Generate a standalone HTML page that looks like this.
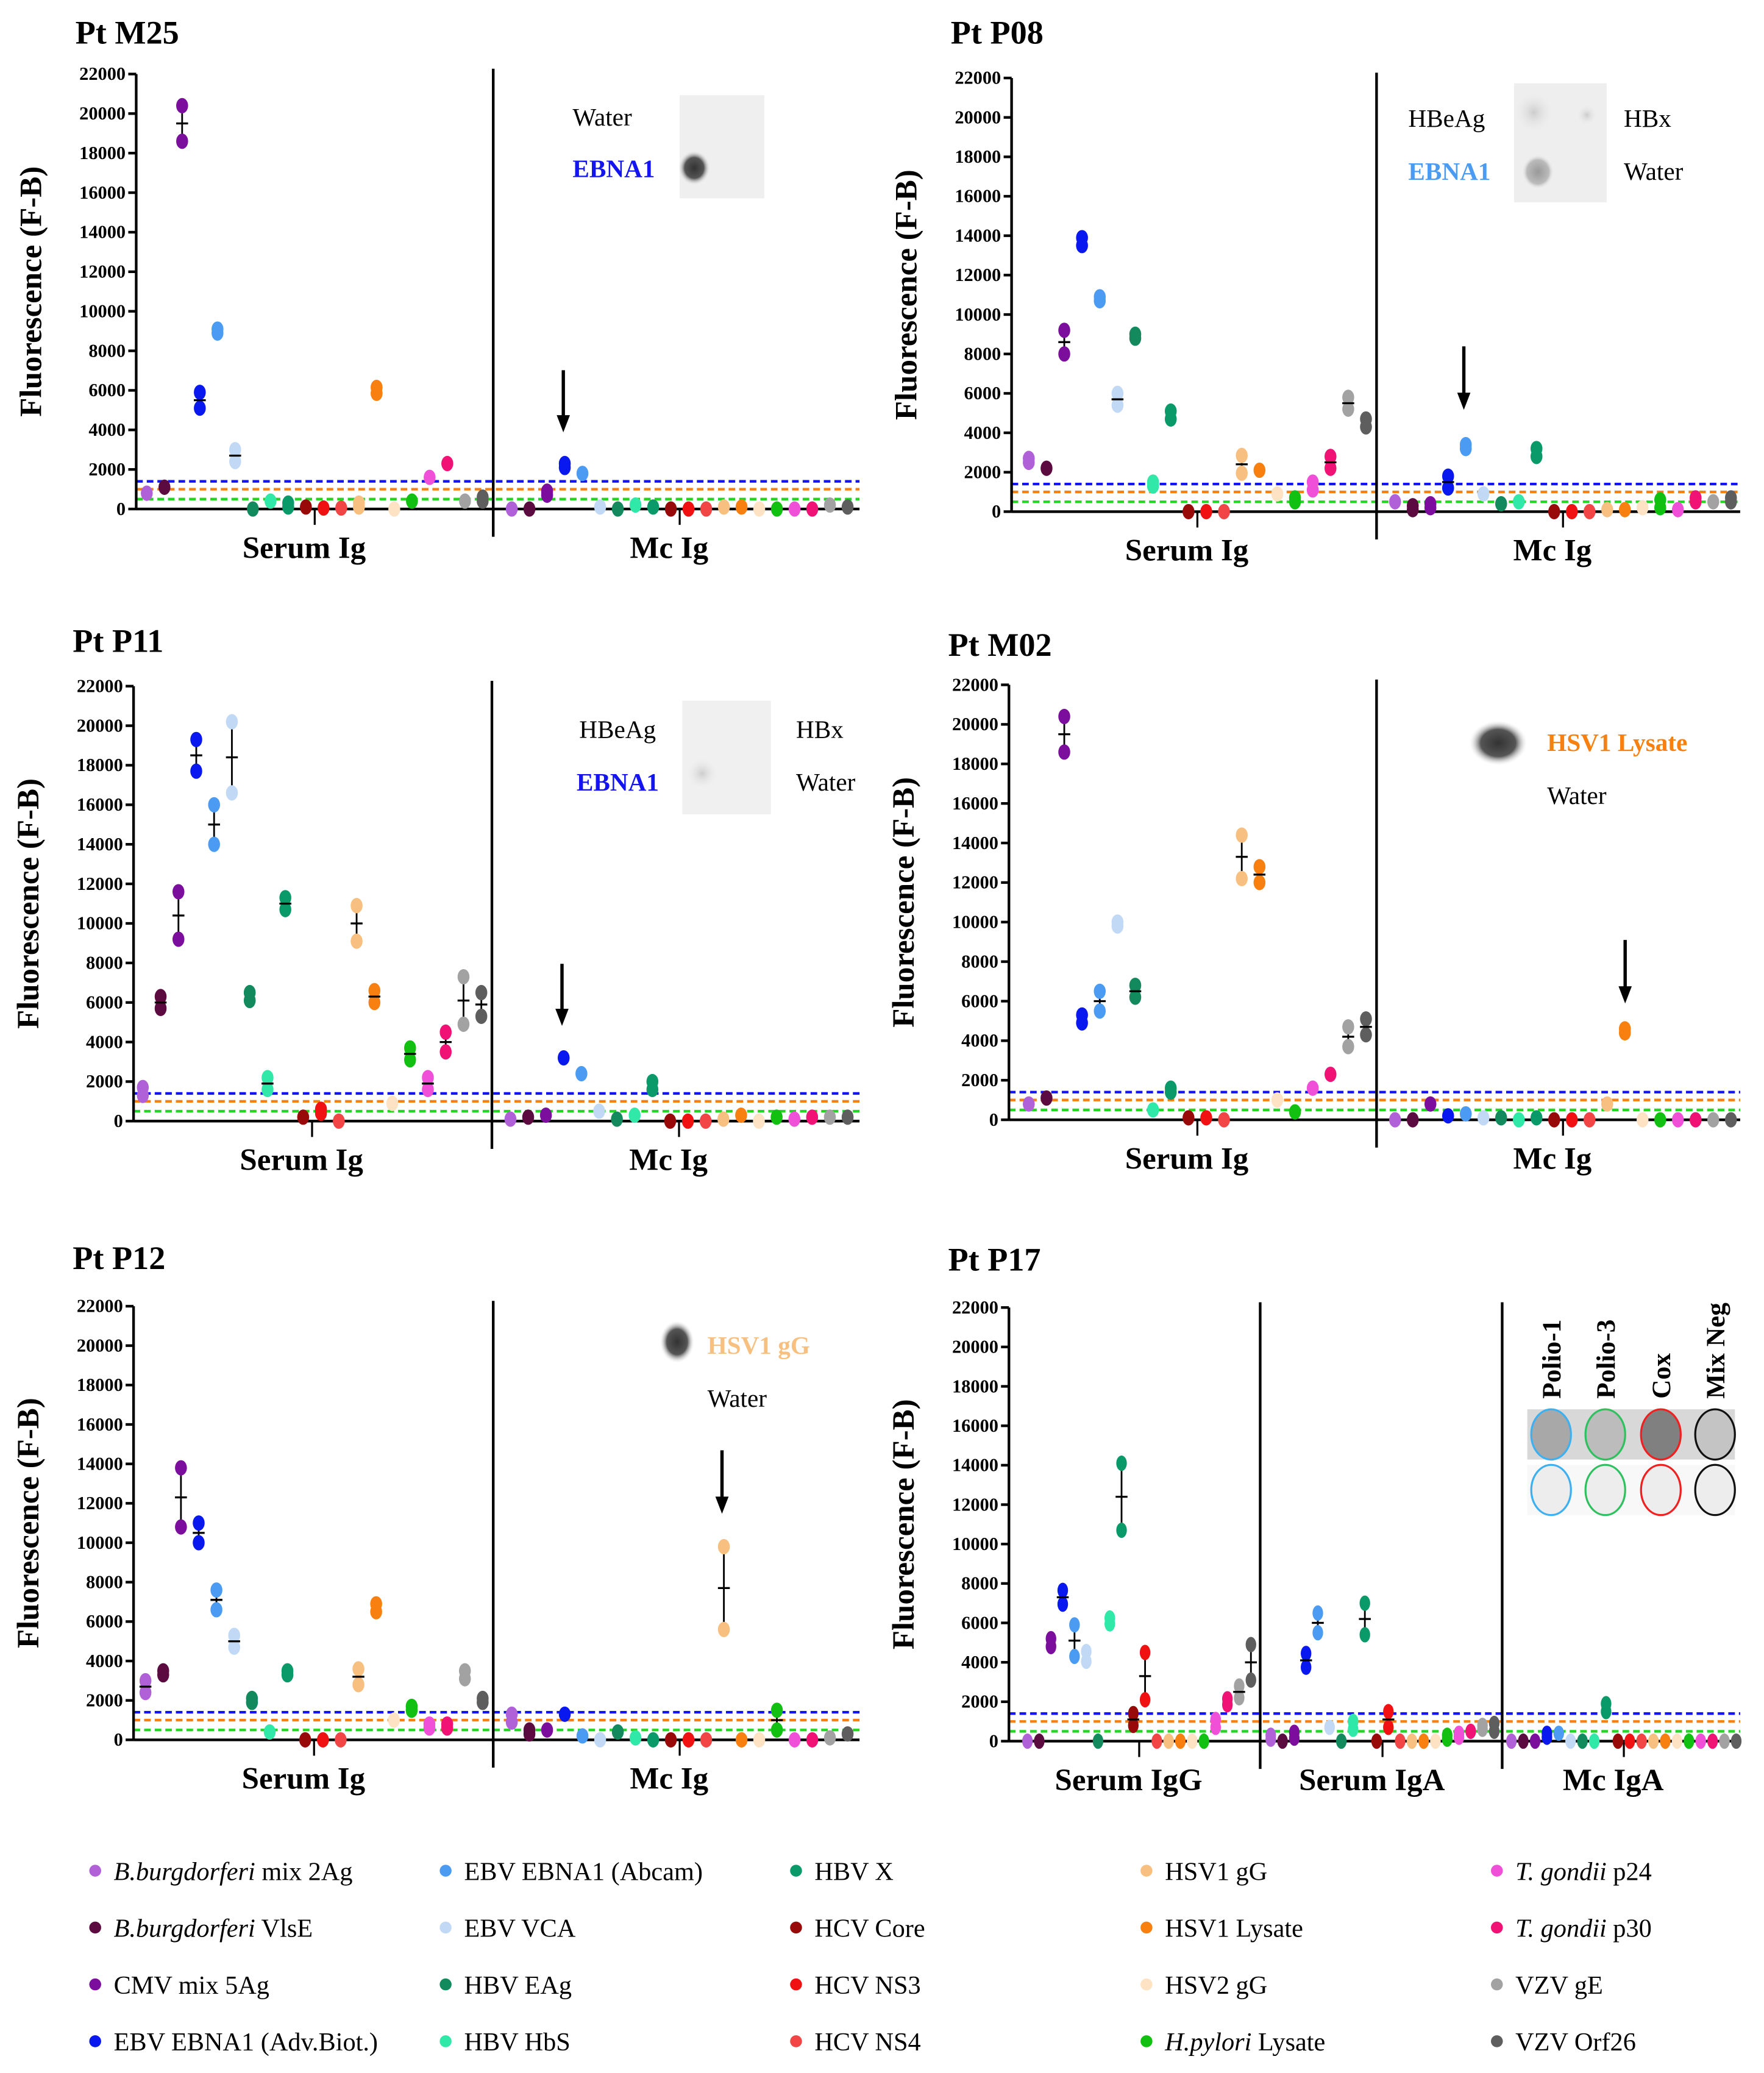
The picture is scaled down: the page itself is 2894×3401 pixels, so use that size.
<!DOCTYPE html>
<html><head><meta charset="utf-8">
<style>
html,body{margin:0;padding:0;background:#fff;}
svg{display:block;font-family:"Liberation Serif",serif;}
</style></head>
<body>
<svg id="fig" width="2894" height="3401" viewBox="0 0 1334 1568" preserveAspectRatio="none" xmlns="http://www.w3.org/2000/svg" font-family="Liberation Serif, serif">
<defs>
<radialGradient id="spotDark"><stop offset="0" stop-color="#333"/><stop offset="0.6" stop-color="#555"/><stop offset="1" stop-color="#eee" stop-opacity="0"/></radialGradient>
<radialGradient id="spotMid"><stop offset="0" stop-color="#999"/><stop offset="0.7" stop-color="#bbb"/><stop offset="1" stop-color="#eee" stop-opacity="0"/></radialGradient>
<radialGradient id="spotLight"><stop offset="0" stop-color="#ccc"/><stop offset="1" stop-color="#eee" stop-opacity="0"/></radialGradient>
</defs>
</svg>
<script>
const antigens = ["B.burgdorferi mix 2Ag","B.burgdorferi VlsE","CMV mix 5Ag","EBV EBNA1 (Adv.Biot.)","EBV EBNA1 (Abcam)","EBV VCA","HBV EAg","HBV HbS","HBV X","HCV Core","HCV NS3","HCV NS4","HSV1 gG","HSV1 Lysate","HSV2 gG","H.pylori Lysate","T. gondii p24","T. gondii p30","VZV gE","VZV Orf26"];
const yTicks = [0,2000,4000,6000,8000,10000,12000,14000,16000,18000,20000,22000];
const thresholds = [1400,1000,500];

const m25Serum = [800,1100,19500,5500,9000,2700,0,400,200,100,50,50,200,6000,0,400,1600,2300,400,500];
const m25SerumSd = [0,0,900,400,100,300,0,0,100,0,0,0,100,150,0,0,0,0,0,100];
const m25Mc = [0,0,800,2200,1800,100,0,200,100,0,0,0,100,100,0,0,0,0,200,100];
const m25McSd = [0,0,100,100,0,0,0,0,0,0,0,0,0,0,0,0,0,0,0,0];

const p08Serum = [2600,2200,8600,13700,10800,5700,8900,1400,4900,0,0,0,2400,2100,900,600,1300,2500,5500,4500];
const p08SerumSd = [100,0,600,200,100,300,100,100,200,0,0,0,450,0,0,100,200,300,300,200];
const p08Mc = [500,200,300,1500,3300,900,400,500,3000,0,0,0,100,100,200,400,100,600,500,600];
const p08McSd = [0,100,100,300,100,0,0,0,200,0,0,0,0,0,0,200,0,100,0,100];

const p11Serum = [1500,6000,10400,18500,15000,18400,6300,1900,11000,200,500,0,10000,6300,900,3400,1900,4000,6100,5900];
const p11SerumSd = [200,300,1200,800,1000,1800,200,300,300,0,100,0,900,300,0,300,300,500,1200,600];
const p11Mc = [100,200,300,3200,2400,500,100,300,1800,0,0,0,100,300,0,200,100,200,200,200];
const p11McSd = [0,0,0,0,0,0,0,0,200,0,0,0,0,0,0,0,0,0,0,0];

const m02Serum = [800,1100,19500,5100,6000,9900,6500,500,1500,100,100,0,13300,12400,1000,400,1600,2300,4200,4700];
const m02SerumSd = [0,0,900,200,500,100,300,0,100,0,0,0,1100,400,0,0,0,0,500,400];
const m02Mc = [0,0,800,200,300,100,100,0,100,0,0,0,800,4500,0,0,0,0,0,0];
const m02McSd = [0,0,0,0,0,0,0,0,0,0,0,0,0,100,0,0,0,0,0,0];

const p12Serum = [2700,3400,12300,10500,7100,5000,2000,400,3400,0,0,0,3200,6700,1000,1600,700,700,3300,2000];
const p12SerumSd = [300,100,1500,500,500,300,100,0,100,0,0,0,400,200,0,100,100,100,200,100];
const p12Mc = [1100,400,500,1300,200,0,400,100,0,0,0,0,7700,0,0,1000,0,0,100,300];
const p12McSd = [200,100,0,0,0,0,0,0,0,0,0,0,2100,0,0,500,0,0,0,0];

const p17IgG = [0,0,5000,7300,5100,4300,0,6100,12400,1100,3300,0,0,0,0,0,900,2000,2500,4000];
const p17IgGSd = [0,0,200,350,800,250,0,150,1700,300,1200,0,0,0,0,0,200,150,300,900];
const p17IgA = [200,0,300,4100,6000,700,0,800,6200,0,1100,0,0,0,0,200,300,500,700,700];
const p17IgASd = [100,0,150,350,500,0,0,200,800,0,400,0,0,0,0,100,100,0,100,200];
const p17McA = [0,0,0,300,400,0,0,0,1700,0,0,0,0,0,0,0,0,0,0,0];
const p17McASd = [0,0,0,100,0,0,0,0,200,0,0,0,0,0,0,0,0,0,0,0];

const colors = ["#b061d8","#5c0b40","#7b0e9c","#0a18f0","#4b9bf2","#c2d9f5","#138a5e","#30e8a8","#0a9a6a","#980a0a","#f01212","#f24646","#f8c080","#f88010","#fde3c4","#12c012","#f050d8","#f01274","#a2a2a2","#5e5e5e"];

const NS = "http://www.w3.org/2000/svg";
const svg = document.getElementById("fig");
function mk(tag, attrs, parent){const e=document.createElementNS(NS,tag);for(const k in attrs)e.setAttribute(k,attrs[k]);(parent||svg).appendChild(e);return e;}
function txt(s, attrs, parent){const e=mk("text",attrs,parent);e.textContent=s;return e;}

const panels = [
 {name:"Pt M25", ax:103, y0:385, yTop:56, right:650, titleY:33, dividers:[373], groups:[
   {label:"Serum Ig", start:111, end:365, vals:m25Serum, sd:m25SerumSd},
   {label:"Mc Ig", start:387, end:641, vals:m25Mc, sd:m25McSd}]},
 {name:"Pt P08", ax:765, y0:387, yTop:59, right:1316, titleY:33, dividers:[1041], groups:[
   {label:"Serum Ig", start:778, end:1033, vals:p08Serum, sd:p08SerumSd},
   {label:"Mc Ig", start:1055, end:1309, vals:p08Mc, sd:p08McSd}]},
 {name:"Pt P11", ax:101, y0:848, yTop:519, right:650, titleY:493, dividers:[372], groups:[
   {label:"Serum Ig", start:108, end:364, vals:p11Serum, sd:p11SerumSd},
   {label:"Mc Ig", start:386, end:641, vals:p11Mc, sd:p11McSd}]},
 {name:"Pt M02", ax:763, y0:847, yTop:518, right:1316, titleY:496, dividers:[1041], groups:[
   {label:"Serum Ig", start:778, end:1033, vals:m02Serum, sd:m02SerumSd},
   {label:"Mc Ig", start:1055, end:1309, vals:m02Mc, sd:m02McSd}]},
 {name:"Pt P12", ax:101, y0:1316, yTop:988, right:650, titleY:960, dividers:[373], groups:[
   {label:"Serum Ig", start:110, end:365, vals:p12Serum, sd:p12SerumSd},
   {label:"Mc Ig", start:387, end:641, vals:p12Mc, sd:p12McSd}]},
 {name:"Pt P17", ax:763, y0:1317, yTop:989, right:1316, titleY:961, dividers:[953,1136], groups:[
   {label:"Serum IgG", start:777, end:946, vals:p17IgG, sd:p17IgGSd},
   {label:"Serum IgA", start:961, end:1130, vals:p17IgA, sd:p17IgASd},
   {label:"Mc IgA", start:1143, end:1313, vals:p17McA, sd:p17McASd}]}
];

panels.forEach((p,pi)=>{
  const g = mk("g",{});
  
  
  const yS = v => p.y0 - (v/22000)*(p.y0-p.yTop);
  const t = txt(p.name,{x:p.ax-46,y:p.titleY,"font-size":25,"font-weight":"bold"},g);
  
  
  const yt = txt("Fluorescence (F-B)",{x:0,y:0,"font-size":23.5,"font-weight":"bold","text-anchor":"middle",transform:`translate(${p.ax-72},${(p.y0+p.yTop)/2}) rotate(-90)`},g);
  
  
  const tc=["#1414f0","#f88010","#22d622"];
  thresholds.forEach((th,i)=>{
    const l=mk("line",{x1:p.ax,x2:p.right,y1:yS(th),y2:yS(th),stroke:tc[i],"stroke-width":2,"stroke-dasharray":"5,3"},g);
    
    
  });
  const ya=mk("line",{x1:p.ax,x2:p.ax,y1:p.yTop,y2:p.y0,stroke:"#000","stroke-width":2},g);
  
  
  const xa=mk("line",{x1:p.ax,x2:p.right,y1:p.y0,y2:p.y0,stroke:"#000","stroke-width":2},g);
  
  
  yTicks.forEach(v=>{
    mk("line",{x1:p.ax-6,x2:p.ax,y1:yS(v),y2:yS(v),stroke:"#000","stroke-width":2},g);
    const tl=txt(String(v),{x:p.ax-8,y:yS(v)+4.5,"font-size":14,"font-weight":"bold","text-anchor":"end"},g);
    
    
  });
  p.dividers.forEach(dx=>{
    const d=mk("line",{x1:dx,x2:dx,y1:p.yTop-4,y2:p.y0+21,stroke:"#000","stroke-width":2},g);
    
    
  });
  p.groups.forEach(gr=>{
    const step=(gr.end-gr.start)/(antigens.length-1);
    const cx=(gr.start+gr.end)/2;
    mk("line",{x1:cx,x2:cx,y1:p.y0,y2:p.y0+12,stroke:"#000","stroke-width":1.5},g);
    const gl=txt(gr.label,{x:cx-8,y:p.y0+37,"font-size":23.5,"font-weight":"bold","text-anchor":"middle"},g);
    
    
    gr.vals.forEach((v,i)=>{
      const x=gr.start+i*step, s=gr.sd[i];
      const rx = p.groups.length>2?4:4.5;
      if(s>=300){
        const eb=mk("line",{x1:x,x2:x,y1:yS(v+s),y2:yS(Math.max(0,v-s)),stroke:"#000","stroke-width":1.3},g);
        
        
        mk("line",{x1:x-3,x2:x+3,y1:yS(v+s),y2:yS(v+s),stroke:"#000","stroke-width":1.3},g);
      }
      const pts = s>0 ? [Math.max(0,v-s), v+s] : [v];
      pts.forEach(pv=>{
        const dot=mk("ellipse",{cx:x,cy:yS(pv),rx:rx,ry:5.8,fill:colors[i]},g);
        
        
      });
      if(s>=300) mk("line",{x1:x-4.5,x2:x+4.5,y1:yS(v),y2:yS(v),stroke:"#000","stroke-width":1.5},g);
    });
  });
});

[[426,280,327],[1107,262,310],[425,729,776],[1229,711,759],[546,1097,1145]].forEach(a=>{
  const ag=mk("g",{});
  
  
  mk("line",{x1:a[0],x2:a[0],y1:a[1],y2:a[2]-10,stroke:"#000","stroke-width":2.5},ag);
  mk("polygon",{points:`${a[0]-5},${a[2]-13} ${a[0]+5},${a[2]-13} ${a[0]},${a[2]}`,fill:"#000"},ag);
});

function inset(items, blots){
  const ig=mk("g",{});
  
  
  blots.forEach(b=>mk(b[0],b[1],ig));
  items.forEach(it=>{
    const t=txt(it[0],{x:it[1],y:it[2],"font-size":19,fill:it[3]||"#000","font-weight":it[3]?"bold":"normal"},ig);
    
    
  });
}
inset([["Water",433,95],["EBNA1",433,134,"#1414f0"]],[["rect",{x:514,y:72,width:64,height:78,fill:"#efefef"}],["ellipse",{cx:525,cy:127,rx:12,ry:13,fill:"url(#spotDark)"}]]);
inset([["HBeAg",1065,96],["HBx",1228,96],["EBNA1",1065,136,"#4b9bf2"],["Water",1228,136]],[["rect",{x:1145,y:63,width:70,height:90,fill:"#eeeeee"}],["ellipse",{cx:1160,cy:85,rx:15,ry:16,fill:"url(#spotLight)"}],["ellipse",{cx:1200,cy:87,rx:8,ry:8,fill:"url(#spotLight)"}],["ellipse",{cx:1163,cy:130,rx:12,ry:13,fill:"url(#spotMid)"}]]);
inset([["HBeAg",438,558],["HBx",602,558],["EBNA1",436,598,"#1414f0"],["Water",602,598]],[["rect",{x:516,y:530,width:67,height:86,fill:"#f0f0f0"}],["ellipse",{cx:531,cy:585,rx:12,ry:12,fill:"url(#spotLight)"}]]);
inset([["HSV1 Lysate",1170,568,"#f88010"],["Water",1170,608]],[["ellipse",{cx:1133,cy:562,rx:22,ry:17,fill:"url(#spotDark)"}]]);
inset([["HSV1 gG",535,1024,"#f8c080"],["Water",535,1064]],[["ellipse",{cx:512,cy:1015,rx:13,ry:16,fill:"url(#spotDark)"}]]);
(function(){
  const ig=mk("g",{});
  
  
  mk("rect",{x:1155,y:1066,width:157,height:38,fill:"#d8d8d8"},ig);
  mk("rect",{x:1155,y:1108,width:157,height:38,fill:"#f8f8f8"},ig);
  const labs=["Polio-1","Polio-3","Cox","Mix Neg"], cc=["#3cb0f0","#30c060","#f02020","#111"], xs=[1173,1214,1256,1297];
  const fills=["#a8a8a8","#bcbcbc","#808080","#c4c4c4"];
  labs.forEach((l,i)=>{
    const t=txt(l,{x:0,y:0,"font-size":20,"font-weight":"bold",transform:`translate(${xs[i]+7},1058) rotate(-90)`},ig);
    
    
    mk("ellipse",{cx:xs[i],cy:1085,rx:15,ry:19,fill:fills[i],stroke:cc[i],"stroke-width":1.5},ig);
    mk("ellipse",{cx:xs[i],cy:1127,rx:15,ry:19,fill:"#ededed",stroke:cc[i],"stroke-width":1.5},ig);
  });
})();

const legendItalic = ["B.burgdorferi","B.burgdorferi",null,null,null,null,null,null,null,null,null,null,null,null,null,"H.pylori","T. gondii","T. gondii",null,null];
const lg=mk("g",{});


antigens.forEach((a,i)=>{
  const col=Math.floor(i/4), row=i%4;
  const x=72+col*265, y=1416+row*43;
  const e=mk("g",{},lg);
  
  
  mk("circle",{cx:x,cy:y-1,r:4.5,fill:colors[i]},e);
  const t=mk("text",{x:x+14,y:y+6,"font-size":19.5},e);
  if(legendItalic[i]){
    const s1=document.createElementNS(NS,"tspan");s1.setAttribute("font-style","italic");s1.textContent=legendItalic[i];t.appendChild(s1);
    const s2=document.createElementNS(NS,"tspan");s2.textContent=a.slice(legendItalic[i].length);t.appendChild(s2);
  } else t.textContent=a;
});
</script>
</body></html>
